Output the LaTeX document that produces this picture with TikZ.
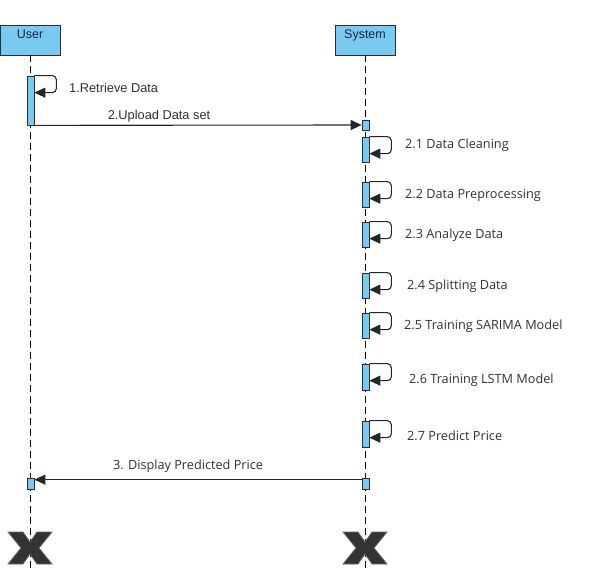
\documentclass[tikz,border=0pt]{standalone}
\usepackage{fontspec}
\setmainfont{Open Sans}
\newfontfamily\arialf{Liberation Sans}
\usetikzlibrary{arrows.meta,calc}
\definecolor{actblue}{RGB}{122,201,240}
\definecolor{boxline}{RGB}{40,45,60}
\definecolor{txtnavy}{RGB}{20,35,70}
\definecolor{labgray}{RGB}{50,50,50}
\tikzset{
  lifebox/.style={draw=boxline, fill=actblue, line width=0.9pt, minimum width=60pt, minimum height=30pt, inner sep=0pt},
  lifeline/.style={draw=black, line width=0.8pt, dash pattern=on 7pt off 4pt},
  act/.style={draw=boxline, fill=actblue, line width=0.7pt, minimum width=7pt, inner sep=0pt},
  msg/.style={draw=black!85, line width=1.1pt, -{Triangle[length=11pt,width=10pt]}},
  selfmsg/.style={msg, rounded corners=4pt},
  lab/.style={font=\fontsize{12.7}{14}\selectfont, text=labgray, inner sep=0pt, anchor=west},
  arlab/.style={font=\arialf\fontsize{12.8}{14}\selectfont, text=labgray, inner sep=0pt},
  headlab/.style={font=\arialf\fontsize{12.5}{14}\selectfont, text=txtnavy, anchor=north},
  killx/.style={fill=black!80, draw=black!60, line width=0.8pt, line join=miter}
}
\begin{document}
\begin{tikzpicture}[x=1pt,y=-1pt]
\useasboundingbox (0,0) rectangle (600,572);
% lifeline heads
\node[lifebox] (user) at (30,40) {};
\node[headlab] (usert) at (30,26) {User};
\node[lifebox] (sys) at (365,40) {};
\node[headlab] (syst) at (365,26) {System};
% lifelines
\coordinate (uend) at (30,572);
\coordinate (send) at (365,572);
\draw[lifeline] (user.south) -- (uend);
\draw[lifeline] (sys.south) -- (send);
% activations
\node[act, minimum height=49pt] (a1) at (30.5,100.5) {};
\node[act, minimum height=10pt] (s0) at (365.5,125) {};
\node[act, minimum height=25pt] (s1) at (365.5,149.5) {};
\node[act, minimum height=25pt] (s2) at (365.5,194.5) {};
\node[act, minimum height=25pt] (s3) at (365.5,234.5) {};
\node[act, minimum height=25pt] (s4) at (365.5,285.5) {};
\node[act, minimum height=25pt] (s5) at (365.5,325.5) {};
\node[act, minimum height=26pt] (s6) at (365.5,377) {};
\node[act, minimum height=26pt] (s7) at (365.5,434) {};
\node[act, minimum height=11pt] (u9) at (30.5,483.5) {};
\node[act, minimum height=11pt] (s9) at (365.5,483.5) {};
% self messages
\draw[selfmsg] (a1.north east) -- ++(22,0) -- ++(0,17) -- ($(a1.north east)+(0,17)$);
\foreach \n in {s1,s2,s3,s4,s5,s6,s7}{
  \draw[selfmsg] (\n.north east) -- ++(22,0) -- ++(0,17) -- ($(\n.north east)+(0,17)$);
}
% labels
\node[arlab, anchor=west] (l1) at (69,88) {1.Retrieve Data};
\node[lab] (l21) at (405,145) {2.1 Data Cleaning};
\node[lab] (l22) at (405,195) {2.2 Data Preprocessing};
\node[lab] (l23) at (405,235) {2.3 Analyze Data};
\node[lab] (l24) at (407,286) {2.4 Splitting Data};
\node[lab] (l25) at (404,326) {2.5 Training SARIMA Model};
\node[lab] (l26) at (409,380) {2.6 Training LSTM Model};
\node[lab] (l27) at (407,436) {2.7 Predict Price};
% messages
\draw[msg] (a1.south east) -- (s0.west);
\node[arlab] (l2) at (159,116) {2.Upload Data set};
\draw[msg] ($(s9.north west)+(0,2)$) -- ($(u9.north east)+(0,2)$);
\node[lab, anchor=center] (l3) at (188,466) {3. Display Predicted Price};
% destruction marks
\foreach \cx/\nm in {30/ux,365/sx}{
  \coordinate (\nm) at (\cx,548);
  \draw[killx] ($(\nm)+(-22,-16)$) -- ++(15,0) -- ($(\nm)+(0,-6)$) -- ($(\nm)+(7,-16)$) -- ++(15,0)
    -- ($(\nm)+(9,0)$) -- ($(\nm)+(22,16)$) -- ++(-15,0) -- ($(\nm)+(0,6)$) -- ($(\nm)+(-7,16)$) -- ++(-15,0)
    -- ($(\nm)+(-9,0)$) -- cycle;
}
\end{tikzpicture}
\end{document}
